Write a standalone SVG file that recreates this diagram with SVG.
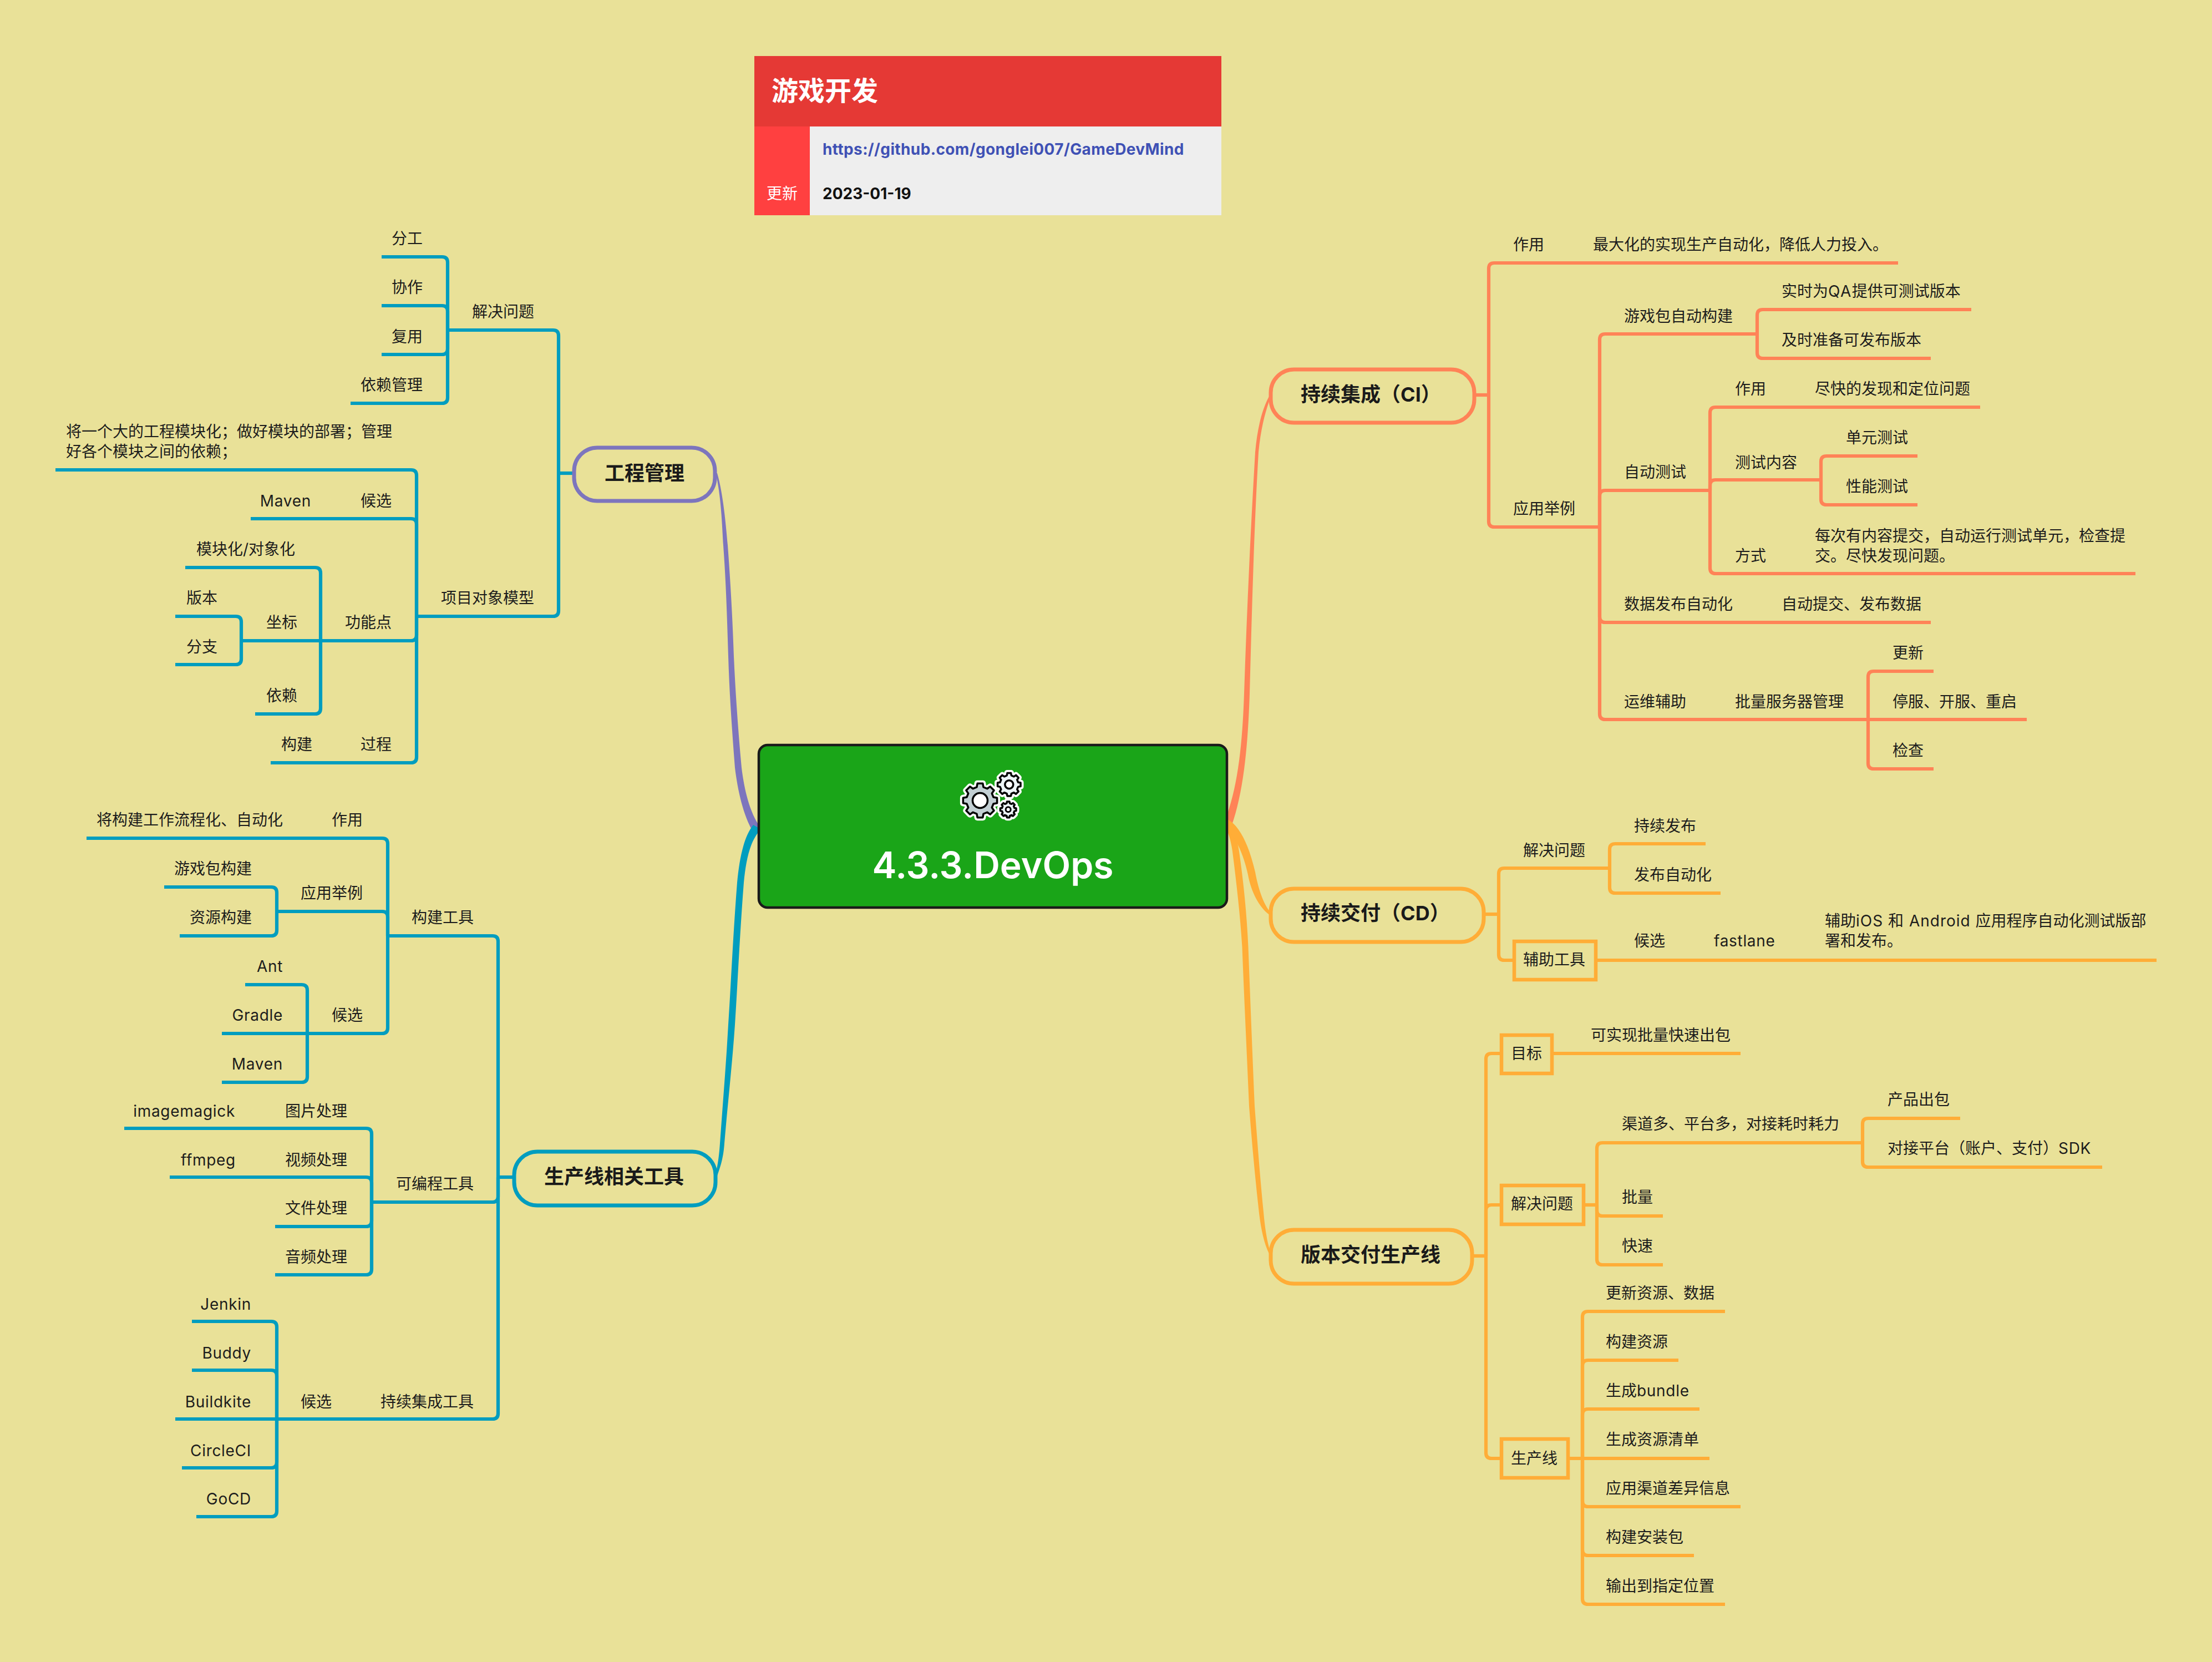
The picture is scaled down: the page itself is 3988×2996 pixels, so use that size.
<svg xmlns="http://www.w3.org/2000/svg" width="3988" height="2996" viewBox="0 0 3988 2996">
<style>
text{font-family:"Inter","Noto Sans CJK SC",sans-serif;font-size:28px;fill:#1c1c1c}
.e{text-anchor:end}
.a{letter-spacing:.7px}
.b{font-size:36px;font-weight:700;fill:#1a1a1a}
.l path{fill:none;stroke-width:6.2}
.blue path{stroke:#009dbf}
.red path{stroke:#ff8357}
.org path{stroke:#ffad37}
.pill{fill:none;stroke-width:7}
.box{fill:none;stroke:#ffad37;stroke-width:6.5}
.gear{stroke:#000;stroke-width:3.5;stroke-linejoin:round}
.halo{fill:#fff;stroke:#fff;stroke-width:11;stroke-linejoin:round}
</style>
<defs>
<path id="g" vector-effect="non-scaling-stroke" d="M77.6,-19.4L98.8,-15.6L98.8,15.6L77.6,19.4L68.6,41.2L80.9,58.8L58.8,80.9L41.2,68.6L19.4,77.6L15.6,98.8L-15.6,98.8L-19.4,77.6L-41.2,68.6L-58.8,80.9L-80.9,58.8L-68.6,41.2L-77.6,19.4L-98.8,15.6L-98.8,-15.6L-77.6,-19.4L-68.6,-41.2L-80.9,-58.8L-58.8,-80.9L-41.2,-68.6L-19.4,-77.6L-15.6,-98.8L15.6,-98.8L19.4,-77.6L41.2,-68.6L58.8,-80.9L80.9,-58.8L68.6,-41.2Z"/>
</defs>
<rect width="3988" height="2996" fill="#e9e198"/>

<g id="connectors">
<g id="main-branches">
<path fill="#7d75bd" d="M1290,853C1300,890 1302,950 1304,983C1309,1050 1311,1120 1313,1183C1315,1250 1320,1320 1325,1384C1330,1425 1340,1470 1358,1500L1370,1490C1352,1465 1342,1425 1337,1384C1331,1320 1326,1250 1323,1183C1321,1120 1317,1050 1312,983C1309,950 1304,890 1293,853Z"/>
<path fill="#009dbf" d="M1358,1487C1340,1510 1333,1550 1329,1591C1322,1680 1318,1770 1313,1847C1309,1920 1303,1990 1298,2061C1296,2090 1293,2105 1289,2121L1292,2123C1298,2105 1304,2090 1306,2061C1312,1990 1320,1920 1325,1847C1330,1770 1334,1680 1341,1591C1345,1550 1352,1515 1372,1495Z"/>
<path fill="#ff8357" d="M2208,1480C2232,1420 2240,1340 2243,1250C2248,1100 2255,950 2263,815C2267,770 2276,735 2290,711L2292,713C2282,738 2273,772 2269,815C2261,950 2257,1100 2253,1250C2250,1340 2243,1425 2220,1490Z"/>
<path fill="#ffad37" d="M2212,1478C2225,1495 2231,1515 2234,1535C2242,1590 2248,1650 2250.5,1707C2254,1800 2258,1900 2262,1994C2267,2060 2272,2125 2278,2185C2281,2220 2286,2245 2292,2262L2290,2264C2280,2245 2274,2220 2270,2187C2263,2125 2257,2060 2252,1994C2248,1900 2243,1800 2239.5,1707C2236,1650 2229,1590 2222,1535C2219,1515 2215,1500 2208,1490Z"/>
<path fill="#ffad37" d="M2212,1476C2238,1490 2253,1530 2263,1572C2268,1600 2278,1632 2292,1646L2290,1650C2272,1638 2256,1610 2250,1577C2243,1545 2230,1510 2208,1490Z"/>
</g>
<g class="l blue">
<path d="M1035,853H1007"/>
<path d="M1007,853V605Q1007,595 997,595H807"/>
<path d="M1007,853V1101Q1007,1111 997,1111H751"/>
<path d="M807,595V473Q807,463 797,463H688"/>
<path d="M807,595V561Q807,551 797,551H688"/>
<path d="M807,595V629Q807,639 797,639H688"/>
<path d="M807,595V717Q807,727 797,727H632"/>
<path d="M751,1111V857Q751,847 741,847H100"/>
<path d="M751,1111V945Q751,935 741,935H452"/>
<path d="M751,1111V1145Q751,1155 741,1155H435"/>
<path d="M751,1111V1365Q751,1375 741,1375H488"/>
<path d="M578,1155V1033Q578,1023 568,1023H334"/>
<path d="M578,1155V1277Q578,1287 568,1287H460"/>
<path d="M435,1155V1121Q435,1111 425,1111H316"/>
<path d="M435,1155V1188Q435,1198 425,1198H316"/>
<path d="M927,2122H898"/>
<path d="M898,2122V1697Q898,1687 888,1687H699"/>
<path d="M898,2122V2157Q898,2167 888,2167H670"/>
<path d="M898,2122V2548Q898,2558 888,2558H316"/>
<path d="M699,1687V1521Q699,1511 689,1511H156"/>
<path d="M699,1687V1653Q699,1643 689,1643H499"/>
<path d="M699,1687V1853Q699,1863 689,1863H400"/>
<path d="M499,1643V1609Q499,1599 489,1599H296"/>
<path d="M499,1643V1677Q499,1687 489,1687H324"/>
<path d="M554,1863V1785Q554,1775 544,1775H442"/>
<path d="M554,1863V1941Q554,1951 544,1951H400"/>
<path d="M670,2167V2044Q670,2034 660,2034H224"/>
<path d="M670,2167V2132Q670,2122 660,2122H306"/>
<path d="M670,2167V2201Q670,2211 660,2211H496"/>
<path d="M670,2167V2288Q670,2298 660,2298H496"/>
<path d="M499,2558V2392Q499,2382 489,2382H346"/>
<path d="M499,2558V2480Q499,2470 489,2470H346"/>
<path d="M499,2558V2636Q499,2646 489,2646H328"/>
<path d="M499,2558V2724Q499,2734 489,2734H354"/>
</g>
<g class="l red">
<path d="M2658,712H2684"/>
<path d="M2684,712V484Q2684,474 2694,474H3422"/>
<path d="M2684,712V940Q2684,950 2694,950H2884"/>
<path d="M2884,950V612Q2884,602 2894,602H3168"/>
<path d="M2884,950V894Q2884,884 2894,884H3083"/>
<path d="M2884,950V1112Q2884,1122 2894,1122H3481"/>
<path d="M2884,950V1287Q2884,1297 2894,1297H3654"/>
<path d="M3168,602V568Q3168,558 3178,558H3554"/>
<path d="M3168,602V636Q3168,646 3178,646H3481"/>
<path d="M3083,884V744Q3083,734 3093,734H3570"/>
<path d="M3083,884V875Q3083,865 3093,865H3283"/>
<path d="M3083,884V1024Q3083,1034 3093,1034H3850"/>
<path d="M3283,865V832Q3283,822 3293,822H3457"/>
<path d="M3283,865V900Q3283,910 3293,910H3457"/>
<path d="M3368,1297V1220Q3368,1210 3378,1210H3486"/>
<path d="M3368,1297V1376Q3368,1386 3378,1386H3486"/>
</g>
<g class="l org">
<path d="M2675,1648H2702"/>
<path d="M2702,1648V1575Q2702,1565 2712,1565H2902"/>
<path d="M2702,1648V1721Q2702,1731 2712,1731H2730"/>
<path d="M2902,1565V1531Q2902,1521 2912,1521H3075"/>
<path d="M2902,1565V1600Q2902,1610 2912,1610H3102"/>
<path d="M2877,1731H3888"/>
<path d="M2654,2264H2679"/>
<path d="M2679,2264V1909Q2679,1899 2689,1899H2707"/>
<path d="M2679,2264V2182Q2679,2172 2689,2172H2707"/>
<path d="M2679,2264V2619Q2679,2629 2689,2629H2707"/>
<path d="M2798,1899H3138"/>
<path d="M2855,2172H2879"/>
<path d="M2879,2172V2070Q2879,2060 2889,2060H3358"/>
<path d="M2879,2172V2182Q2879,2192 2889,2192H2998"/>
<path d="M2879,2172V2270Q2879,2280 2889,2280H2998"/>
<path d="M3358,2060V2026Q3358,2016 3368,2016H3534"/>
<path d="M3358,2060V2094Q3358,2104 3368,2104H3790"/>
<path d="M2827,2629H3082"/>
<path d="M2853,2629V2374Q2853,2364 2863,2364H3110"/>
<path d="M2853,2629V2462Q2853,2452 2863,2452H3026"/>
<path d="M2853,2629V2550Q2853,2540 2863,2540H3064"/>
<path d="M2853,2629V2706Q2853,2716 2863,2716H3138"/>
<path d="M2853,2629V2794Q2853,2804 2863,2804H3054"/>
<path d="M2853,2629V2882Q2853,2892 2863,2892H3110"/>
</g>
</g>

<g id="info-card">
<rect x="1360" y="101" width="842" height="127" fill="#e53935"/>
<rect x="1360" y="228" width="100" height="160" fill="#ff4040"/>
<rect x="1460" y="228" width="742" height="160" fill="#eeeeee"/>
<text x="1391" y="181" style="font-size:48px;font-weight:700;fill:#fff">游戏开发</text>
<text x="1382" y="359" style="fill:#fff">更新</text>
<text x="1483" y="279" style="font-weight:700;fill:#3f51b5;letter-spacing:.37px">https://github.com/gonglei007/GameDevMind</text>
<text x="1483" y="359" style="font-weight:700;fill:#111">2023-01-19</text>
</g>

<g id="root">
<rect x="1368" y="1343" width="844" height="293" rx="16" fill="#1aa518" stroke="#1a1a1a" stroke-width="4.5"/>
<g id="root-icon">
<use href="#g" class="halo" transform="translate(1767,1443) scale(.31)"/>
<use href="#g" class="halo" transform="translate(1819.3,1414.3) scale(.21)"/>
<use href="#g" class="halo" transform="translate(1817.7,1459.3) scale(.145)"/>
<use href="#g" class="gear" fill="#c2cfd3" transform="translate(1767,1443) scale(.31)"/>
<circle cx="1767" cy="1443" r="13.5" fill="#fff" stroke="#000" stroke-width="3.5"/>
<use href="#g" class="gear" fill="#edf5f7" transform="translate(1819.3,1414.3) scale(.21)"/>
<circle cx="1819.3" cy="1414.3" r="7.5" fill="#fff" stroke="#000" stroke-width="3.5"/>
<use href="#g" class="gear" fill="#edf5f7" transform="translate(1817.7,1459.3) scale(.145)"/>
<circle cx="1817.7" cy="1459.3" r="4.5" fill="#fff" stroke="#000" stroke-width="3"/>
</g>
<text x="1790" y="1583" text-anchor="middle" style="font-size:66px;font-weight:600;fill:#fff">4.3.3.DevOps</text>
</g>

<g id="n-gongcheng"><rect class="pill" x="1035" y="807" width="254" height="96" rx="42" stroke="#7d75bd"/><text class="b" x="1090" y="866">工程管理</text></g>
<g id="n-shengchan"><rect class="pill" x="927" y="2076" width="363" height="97" rx="42" stroke="#009dbf"/><text class="b" x="981" y="2134">生产线相关工具</text></g>
<g id="n-ci"><rect class="pill" x="2291" y="666" width="367" height="96" rx="42" stroke="#ff8357"/><text class="b" x="2345" y="724">持续集成（CI）</text></g>
<g id="n-cd"><rect class="pill" x="2291" y="1602" width="384" height="96" rx="42" stroke="#ffad37"/><text class="b" x="2345" y="1659">持续交付（CD）</text></g>
<g id="n-pipeline"><rect class="pill" x="2291" y="2217" width="363" height="97" rx="42" stroke="#ffad37"/><text class="b" x="2345" y="2275">版本交付生产线</text></g>

<g id="left-project" transform="translate(0,1)">
<g id="t1"><text class="e" x="762" y="439">分工</text></g>
<g id="t2"><text class="e" x="762" y="527">协作</text></g>
<g id="t3"><text class="e" x="762" y="616">复用</text></g>
<g id="t4"><text class="e" x="762" y="703">依赖管理</text></g>
<g id="t5"><text class="e" x="963" y="571">解决问题</text></g>
<g id="t6"><text x="119" y="787">将一个大的工程模块化；做好模块的部署；管理</text><text x="119" y="823">好各个模块之间的依赖；</text></g>
<g id="t7"><text class="e a" x="561" y="912">Maven</text></g>
<g id="t8"><text class="e" x="706" y="912">候选</text></g>
<g id="t9"><text class="e" x="532" y="999">模块化/对象化</text></g>
<g id="t10"><text class="e" x="392" y="1087">版本</text></g>
<g id="t11"><text class="e" x="392" y="1175">分支</text></g>
<g id="t12"><text class="e" x="536" y="1131">坐标</text></g>
<g id="t13"><text class="e" x="706" y="1131">功能点</text></g>
<g id="t14"><text class="e" x="536" y="1263">依赖</text></g>
<g id="t15"><text class="e" x="563" y="1351">构建</text></g>
<g id="t16"><text class="e" x="706" y="1351">过程</text></g>
<g id="t17"><text class="e" x="963" y="1087">项目对象模型</text></g>
</g>

<g id="left-tools" transform="translate(0,1)">
<g id="u1"><text class="e" x="510" y="1487">将构建工作流程化、自动化</text></g>
<g id="u2"><text class="e" x="654" y="1487">作用</text></g>
<g id="u3"><text class="e" x="454" y="1575">游戏包构建</text></g>
<g id="u4"><text class="e" x="454" y="1663">资源构建</text></g>
<g id="u5"><text class="e" x="654" y="1619">应用举例</text></g>
<g id="u6"><text class="e" x="854" y="1663">构建工具</text></g>
<g id="u7"><text class="e a" x="510" y="1751">Ant</text></g>
<g id="u8"><text class="e a" x="510" y="1839">Gradle</text></g>
<g id="u9"><text class="e a" x="510" y="1927">Maven</text></g>
<g id="u10"><text class="e" x="654" y="1839">候选</text></g>
<g id="u11"><text class="e a" x="424" y="2012">imagemagick</text></g>
<g id="u12"><text class="e" x="626" y="2012">图片处理</text></g>
<g id="u13"><text class="e a" x="425" y="2100">ffmpeg</text></g>
<g id="u14"><text class="e" x="626" y="2100">视频处理</text></g>
<g id="u15"><text class="e" x="626" y="2187">文件处理</text></g>
<g id="u16"><text class="e" x="626" y="2275">音频处理</text></g>
<g id="u17"><text class="e" x="854" y="2143">可编程工具</text></g>
<g id="u18"><text class="e a" x="453" y="2360">Jenkin</text></g>
<g id="u19"><text class="e a" x="453" y="2448">Buddy</text></g>
<g id="u20"><text class="e a" x="453" y="2536">Buildkite</text></g>
<g id="u21"><text class="e a" x="453" y="2624">CircleCI</text></g>
<g id="u22"><text class="e a" x="453" y="2711">GoCD</text></g>
<g id="u23"><text class="e" x="598" y="2536">候选</text></g>
<g id="u24"><text class="e" x="854" y="2536">持续集成工具</text></g>
</g>

<g id="right-ci" transform="translate(0,1)">
<g id="c1"><text x="2728" y="450">作用</text></g>
<g id="c2"><text x="2872" y="450">最大化的实现生产自动化，降低人力投入。</text></g>
<g id="c3"><text x="3212" y="534">实时为<tspan style="letter-spacing:1.5px">QA</tspan>提供可测试版本</text></g>
<g id="c4"><text x="3212" y="622">及时准备可发布版本</text></g>
<g id="c5"><text x="2928" y="579">游戏包自动构建</text></g>
<g id="c6"><text x="3128" y="710">作用</text></g>
<g id="c7"><text x="3272" y="710">尽快的发现和定位问题</text></g>
<g id="c8"><text x="3328" y="798">单元测试</text></g>
<g id="c9"><text x="3328" y="886">性能测试</text></g>
<g id="c10"><text x="3128" y="843">测试内容</text></g>
<g id="c11"><text x="2928" y="860">自动测试</text></g>
<g id="c12"><text x="2728" y="926">应用举例</text></g>
<g id="c13"><text x="3128" y="1011">方式</text></g>
<g id="c14"><text x="3272" y="975">每次有内容提交，自动运行测试单元，检查提</text><text x="3272" y="1011">交。尽快发现问题。</text></g>
<g id="c15"><text x="2928" y="1098">数据发布自动化</text></g>
<g id="c16"><text x="3212" y="1098">自动提交、发布数据</text></g>
<g id="c17"><text x="3412" y="1186">更新</text></g>
<g id="c18"><text x="3128" y="1274">批量服务器管理</text></g>
<g id="c19"><text x="2928" y="1274">运维辅助</text></g>
<g id="c20"><text x="3412" y="1274">停服、开服、重启</text></g>
<g id="c21"><text x="3412" y="1362">检查</text></g>
</g>

<g id="right-cd">
<g id="d1"><text x="2746" y="1543">解决问题</text></g>
<g id="d2"><text x="2946" y="1499">持续发布</text></g>
<g id="d3"><text x="2946" y="1587">发布自动化</text></g>
<g id="d4"><rect class="box" x="2730" y="1697" width="147" height="69"/><text x="2746" y="1740">辅助工具</text></g>
<g id="d5"><text x="2946" y="1706">候选</text></g>
<g id="d6"><text class="a" x="3090" y="1706">fastlane</text></g>
<g id="d7"><text x="3290" y="1670">辅助<tspan style="letter-spacing:1px">iOS 和 Android </tspan>应用程序自动化测试版部</text><text x="3290" y="1706">署和发布。</text></g>
</g>

<g id="right-pipeline">
<g id="p1"><rect class="box" x="2707" y="1866" width="91" height="69"/><text x="2724" y="1909">目标</text></g>
<g id="p2"><text x="2868" y="1876">可实现批量快速出包</text></g>
<g id="p3"><rect class="box" x="2707" y="2137" width="148" height="70"/><text x="2724" y="2180">解决问题</text></g>
<g id="p4"><text x="2924" y="2036">渠道多、平台多，对接耗时耗力</text></g>
<g id="p5"><text x="3403" y="1992">产品出包</text></g>
<g id="p6"><text x="3403" y="2080">对接平台（账户、支付）<tspan class="a">SDK</tspan></text></g>
<g id="p7"><text x="2924" y="2168">批量</text></g>
<g id="p8"><text x="2924" y="2256">快速</text></g>
<g id="p9"><rect class="box" x="2707" y="2594" width="120" height="70"/><text x="2724" y="2639">生产线</text></g>
<g id="p10"><text x="2895" y="2341">更新资源、数据</text></g>
<g id="p11"><text x="2895" y="2429">构建资源</text></g>
<g id="p12"><text x="2895" y="2517">生成<tspan class="a">bundle</tspan></text></g>
<g id="p13"><text x="2895" y="2605">生成资源清单</text></g>
<g id="p14"><text x="2895" y="2693">应用渠道差异信息</text></g>
<g id="p15"><text x="2895" y="2781">构建安装包</text></g>
<g id="p16"><text x="2895" y="2869">输出到指定位置</text></g>
</g>
</svg>
